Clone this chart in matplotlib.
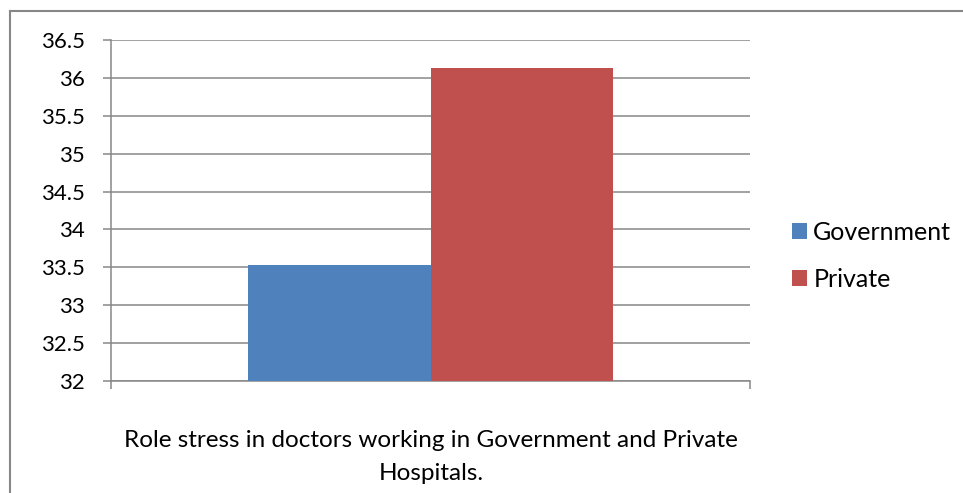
import matplotlib.pyplot as plt
from matplotlib.lines import Line2D

# chart data
series = ['Government', 'Private']
values = [33.53, 36.13]
colors = ['#4F81BD', '#C0504D']
y_ticks = [32, 32.5, 33, 33.5, 34, 34.5, 35, 35.5, 36, 36.5]
y_labels = ['32', '32.5', '33', '33.5', '34', '34.5', '35', '35.5', '36', '36.5']
x_title = 'Role stress in doctors working in Government and Private\nHospitals.'

W, H = 963, 493
plt.rcParams['font.family'] = ['Lato', 'DejaVu Sans']

fig = plt.figure(figsize=(W / 100, H / 100), dpi=100)
ax = fig.add_axes([111 / W, 1 - 381 / H, (750 - 111) / W, (381 - 40) / H])

# excel style clustered bars, gap width 75%
bar_w = 1 / 1.75 / len(series)
for i, (name, val, col) in enumerate(zip(series, values, colors)):
    x = -bar_w * len(series) / 2 + bar_w * (i + 0.5)
    ax.bar(x, val - 32, bottom=32, width=bar_w, color=col, label=name, zorder=3)

ax.set_xlim(-0.5, 0.5)
ax.set_ylim(32, 36.5)
ax.set_yticks(y_ticks)
ax.set_yticklabels(y_labels, fontsize=16)
ax.set_xticks([-0.5, 0.5])
ax.set_xticklabels([])
ax.yaxis.grid(True, color='#878787', linewidth=1.1, zorder=0)
ax.tick_params(axis='both', direction='out', length=6, width=1.1, color='#878787', pad=13)
for side in ['top', 'right']:
    ax.spines[side].set_visible(False)
for side in ['left', 'bottom']:
    ax.spines[side].set_color('#878787')
    ax.spines[side].set_linewidth(1.1)

fig.text(431 / W, 1 - 457 / H, x_title, ha='center', va='center', fontsize=17.5,
         linespacing=1.65)

leg = ax.legend(loc='center left', bbox_to_anchor=(792 / W, 1 - 256 / H),
                bbox_transform=fig.transFigure, frameon=False, fontsize=18,
                handlelength=0.6, handleheight=0.6, handletextpad=0.25,
                labelspacing=0.95, borderaxespad=0, borderpad=0)

# chart area border (cropped at right and bottom)
fig.add_artist(Line2D([10 / W, 10 / W], [0, 1 - 11 / H], transform=fig.transFigure,
                      color='#878787', linewidth=1.5))
fig.add_artist(Line2D([10 / W, 1], [1 - 11 / H, 1 - 11 / H], transform=fig.transFigure,
                      color='#878787', linewidth=1.5))

fig.savefig('out.png', dpi=100)
